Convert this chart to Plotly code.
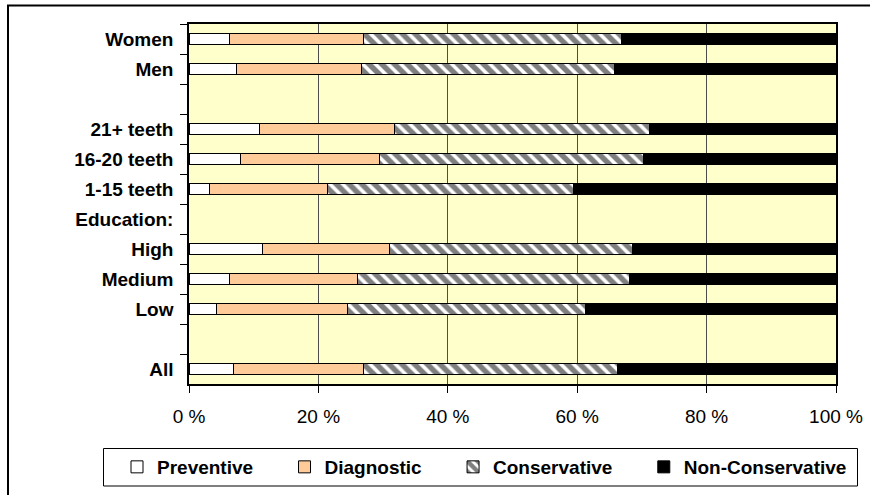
import plotly.graph_objects as go

# Category rows, top to bottom (blank rows act as spacers)
groups = ["Women", "Men", "\u2002", "21+ teeth", "16-20 teeth", "1-15 teeth",
          "Education:", "High", "Medium", "Low", "\u2002\u2002", "All"]

# Share of treatment type (%) per group; spacer rows carry no bars
preventive = [6.3, 7.4, None, 10.9, 8.0, 3.2, None, 11.4, 6.3, 4.3, None, 6.8]
diagnostic = [20.7, 19.3, None, 20.9, 21.5, 18.2, None, 19.6, 19.8, 20.2, None, 20.1]
conservative = [39.8, 39.1, None, 39.4, 40.8, 38.1, None, 37.6, 42.0, 36.8, None, 39.3]
non_conservative = [33.2, 34.2, None, 28.8, 29.7, 40.5, None, 31.4, 31.9, 38.7, None, 33.8]

x_ticks = [0, 20, 40, 60, 80, 100]

FONT = "Liberation Sans, Arial, sans-serif"
W, H = 870, 495
L, R, T, B = 189, 34, 24, 111
PW, PH = W - L - R, H - T - B


def px_x(p):
    return (p - L) / PW


def px_y(p):
    return (H - B - p) / PH


# trailing no-break spaces widen the gap between legend entries
PAD = "\u00a0" * 5

fig = go.Figure()
line = dict(color="black", width=1)
bar_w = 0.38

fig.add_trace(go.Bar(name="Preventive" + PAD, y=groups, x=preventive, orientation="h",
                     width=bar_w, marker=dict(color="white", line=line)))
fig.add_trace(go.Bar(name="Diagnostic" + PAD, y=groups, x=diagnostic, orientation="h",
                     width=bar_w, marker=dict(color="#FFCC99", line=line)))
fig.add_trace(go.Bar(name="Conservative" + PAD, y=groups, x=conservative, orientation="h",
                     width=bar_w,
                     marker=dict(color="white", line=line,
                                 pattern=dict(shape="\\", fgcolor="black", bgcolor="white",
                                              size=9, solidity=0.6, fillmode="overlay"))))
fig.add_trace(go.Bar(name="Non-Conservative", y=groups, x=non_conservative, orientation="h",
                     width=bar_w, marker=dict(color="black", line=line)))

fig.update_layout(
    width=W, height=H,
    margin=dict(l=L, r=R, t=T, b=B, pad=0, autoexpand=False),
    barmode="stack",
    paper_bgcolor="white",
    plot_bgcolor="#FFFFCC",
    font=dict(family=FONT, size=19, color="black"),
    showlegend=True,
    legend=dict(
        orientation="h",
        x=px_x(117), y=px_y(467), xanchor="left", yanchor="middle",
        borderwidth=0, bgcolor="rgba(0,0,0,0)",
        font=dict(family=FONT, size=19, color="black", weight="bold"),
        traceorder="normal",
    ),
    xaxis=dict(
        range=[0, 100], tickvals=x_ticks, ticktext=[f"{v} %" for v in x_ticks],
        showgrid=True, gridcolor="#4d4d4d", gridwidth=1,
        showline=True, linecolor="black", linewidth=1.5, mirror=True,
        ticks="outside", ticklen=7, tickcolor="black",
        ticklabelstandoff=7,
        tickfont=dict(family=FONT, size=19),
        zeroline=False, fixedrange=True,
    ),
    yaxis=dict(
        type="category", categoryorder="array", categoryarray=groups,
        autorange="reversed",
        tickson="boundaries", ticks="outside", ticklen=7, tickcolor="black",
        showgrid=False,
        showline=True, linecolor="black", linewidth=1.5, mirror=True,
        ticklabelstandoff=10,
        tickfont=dict(family=FONT, size=19, weight="bold"),
        fixedrange=True,
    ),
    shapes=[
        # outer chart frame
        dict(type="rect", xref="paper", yref="paper",
             x0=px_x(8), x1=px_x(880), y0=px_y(505), y1=px_y(5.5),
             line=dict(color="black", width=2), fillcolor="rgba(0,0,0,0)",
             layer="below"),
        # legend frame
        dict(type="rect", xref="paper", yref="paper",
             x0=px_x(103.5), x1=px_x(857.5), y0=px_y(486), y1=px_y(448.5),
             line=dict(color="black", width=1), fillcolor="white",
             layer="below"),
    ],
)

fig.write_html("out.html")
